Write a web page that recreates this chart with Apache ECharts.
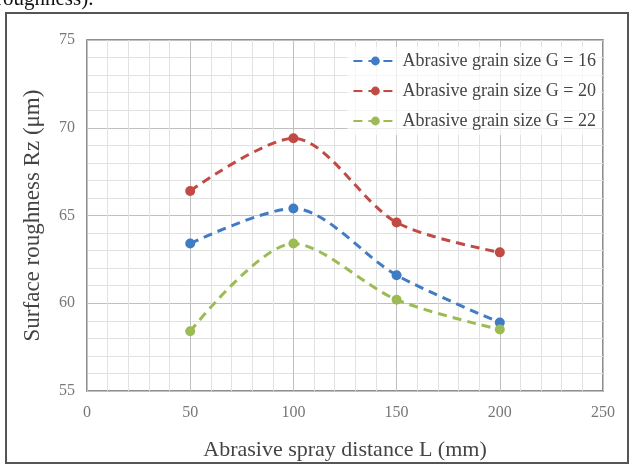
<!DOCTYPE html>
<html>
<head>
<meta charset="utf-8">
<script src="https://cdn.jsdelivr.net/npm/echarts@6/dist/echarts.min.js"></script>
<style>html,body{margin:0;padding:0;background:#fff;}#c{width:631px;height:466px;}</style>
</head>
<body>
<div id="c"></div>
<script>
const distances = [50, 100, 150, 200];
const seriesNames = ['Abrasive grain size G = 16', 'Abrasive grain size G = 20', 'Abrasive grain size G = 22'];
const g16 = [63.4, 65.4, 61.6, 58.9];
const g20 = [66.4, 69.4, 64.6, 62.9];
const g22 = [58.4, 63.4, 60.2, 58.5];
const colors = ['#3f7cc4', '#c24a45', '#9dbb55'];
const xTicks = [0, 50, 100, 150, 200, 250];
const yTicks = [55, 60, 65, 70, 75];

const font = '"Liberation Serif", "Times New Roman", serif';
const chart = echarts.init(document.getElementById('c'), null, {renderer: 'canvas'});
function mk(name, vals, color) {
  return {
    name: name, type: 'line', smooth: 0.3,
    data: distances.map((d, i) => [d, vals[i]]),
    symbol: 'circle', symbolSize: 10,
    itemStyle: {color: color},
    lineStyle: {color: color, width: 3, type: [9, 6]}
  };
}
chart.setOption({
  animation: false,
  backgroundColor: '#fff',
  grid: {left: 87, right: 28, top: 40, bottom: 73, show: true, borderColor: '#6a6a6a', borderWidth: 1.5, backgroundColor: 'transparent'},
  legend: {
    data: seriesNames, orient: 'vertical', right: 30, top: 47, itemGap: 12,
    itemWidth: 44, itemHeight: 11,
    backgroundColor: 'rgba(255,255,255,0.7)',
    textStyle: {fontFamily: font, fontSize: 18, color: '#444'}
  },
  xAxis: {
    type: 'value', min: xTicks[0], max: xTicks[xTicks.length - 1], interval: 50,
    name: 'Abrasive spray distance L (mm)', nameLocation: 'middle', nameGap: 48,
    nameTextStyle: {fontFamily: font, fontSize: 22, color: '#444'},
    axisLine: {show: false}, axisTick: {show: false},
    axisLabel: {fontFamily: font, fontSize: 16, color: '#777', margin: 14},
    splitLine: {show: true, lineStyle: {color: '#c0c0c0', width: 1}},
    minorTick: {show: false, splitNumber: 5},
    minorSplitLine: {show: true, lineStyle: {color: '#e2e2e2', width: 1}}
  },
  yAxis: {
    type: 'value', min: yTicks[0], max: yTicks[yTicks.length - 1], interval: 5,
    name: 'Surface roughness Rz (μm)', nameLocation: 'middle', nameGap: 43,
    nameTextStyle: {fontFamily: font, fontSize: 23, color: '#444'},
    axisLine: {show: false}, axisTick: {show: false},
    axisLabel: {fontFamily: font, fontSize: 16, color: '#777', margin: 12},
    splitLine: {show: true, lineStyle: {color: '#c0c0c0', width: 1}},
    minorTick: {show: false, splitNumber: 5},
    minorSplitLine: {show: true, lineStyle: {color: '#e2e2e2', width: 1}}
  },
  graphic: [
    {type: 'rect', shape: {x: 6, y: 13, width: 622, height: 450}, style: {fill: 'none', stroke: '#555', lineWidth: 2}, silent: true},
    {type: 'text', x: -4, y: 10, style: {text: 'roughness).', font: '21px "Liberation Serif", serif', fill: '#111', verticalAlign: 'bottom'}, silent: true}
  ],
  series: [mk(seriesNames[0], g16, colors[0]), mk(seriesNames[1], g20, colors[1]), mk(seriesNames[2], g22, colors[2])]
});
</script>
</body>
</html>
